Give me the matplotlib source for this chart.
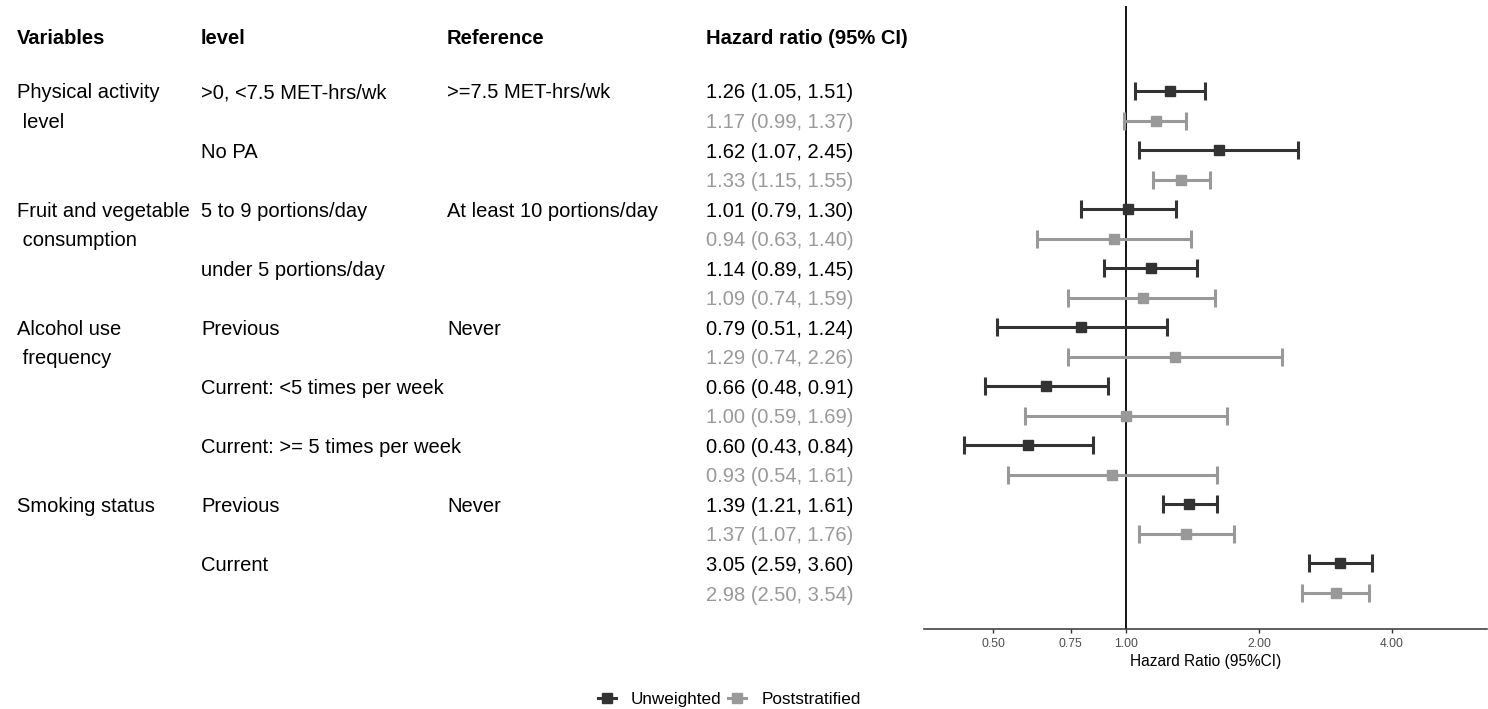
import matplotlib
matplotlib.use("Agg")
import matplotlib.pyplot as plt
from matplotlib.lines import Line2D
from matplotlib.transforms import blended_transform_factory
import numpy as np

plt.rcParams['font.family'] = ['Liberation Sans', 'DejaVu Sans']

variables = ["Physical activity", " level", "", "", "Fruit and vegetable", " consumption", "", "",
             "Alcohol use", " frequency", "", "", "", "", "Smoking status", "", "", ""]
levels = [">0, <7.5 MET-hrs/wk", "", "No PA", "", "5 to 9 portions/day", "", "under 5 portions/day", "",
          "Previous", "", "Current: <5 times per week", "", "Current: >= 5 times per week", "",
          "Previous", "", "Current", ""]
references = [">=7.5 MET-hrs/wk", "", "", "", "At least 10 portions/day", "", "", "",
              "Never", "", "", "", "", "", "Never", "", "", ""]
groups = ["Unweighted", "Poststratified"] * 9
hr = [1.26, 1.17, 1.62, 1.33, 1.01, 0.94, 1.14, 1.09, 0.79, 1.29, 0.66, 1.00, 0.60, 0.93, 1.39, 1.37, 3.05, 2.98]
lower = [1.05, 0.99, 1.07, 1.15, 0.79, 0.63, 0.89, 0.74, 0.51, 0.74, 0.48, 0.59, 0.43, 0.54, 1.21, 1.07, 2.59, 2.50]
upper = [1.51, 1.37, 2.45, 1.55, 1.30, 1.40, 1.45, 1.59, 1.24, 2.26, 0.91, 1.69, 0.84, 1.61, 1.61, 1.76, 3.60, 3.54]
xticks = [0.5, 0.75, 1.0, 2.0, 4.0]
xticklabels = ["0.50", "0.75", "1.00", "2.00", "4.00"]

colors = {"Unweighted": "#333333", "Poststratified": "#999999"}
textcolors = {"Unweighted": "#000000", "Poststratified": "#999999"}

W, H = 1488, 709
fig = plt.figure(figsize=(W / 100, H / 100), dpi=100)
left, right, top, bottom = 924, 1487, 6, 629
ax = fig.add_axes([left / W, 1 - bottom / H, (right - left) / W, (bottom - top) / H])

n = len(hr)
ys = np.arange(n)
row0, step = 91, 29.53
ax.set_ylim((bottom - row0) / step, (top - row0) / step)
ax.set_xscale('log', base=2)
ax.set_xlim(2 ** (-(1126 - left) / 133.0), 2 ** ((right - 1126) / 133.0))

ax.axvline(1.0, color="#000000", lw=1.3, zorder=1)
for i in range(n):
    c = colors[groups[i]]
    ax.errorbar([hr[i]], [ys[i]], xerr=[[hr[i] - lower[i]], [upper[i] - hr[i]]],
                fmt='s', color=c, ecolor=c, elinewidth=2.2, capsize=6.5, capthick=2.2,
                markersize=7.8, zorder=3)

for s in ['top', 'right', 'left']:
    ax.spines[s].set_visible(False)
ax.spines['bottom'].set_color('#333333')
ax.spines['bottom'].set_linewidth(1.1)
ax.set_yticks([])
ax.set_xticks(xticks)
ax.set_xticklabels(xticklabels)
ax.xaxis.set_minor_locator(matplotlib.ticker.NullLocator())
ax.tick_params(axis='x', colors='#333333', labelcolor='#4D4D4D', labelsize=8.7, length=3, width=1)
ax.set_xlabel("Hazard Ratio (95%CI)", fontsize=11.2, color='#000000', labelpad=3)

tr = blended_transform_factory(fig.transFigure, ax.transData)
fs = 14.5
va = 'center_baseline'
col_x = [17 / W, 201 / W, 447 / W, 706 / W]
hy = (36 - row0) / step
for x, t in zip(col_x, ["Variables", "level", "Reference", "Hazard ratio (95% CI)"]):
    ax.text(x, hy, t, transform=tr, fontsize=fs, fontweight='bold', va=va, ha='left', clip_on=False)

for i in range(n):
    tc = textcolors[groups[i]]
    if variables[i]:
        ax.text(col_x[0], ys[i], variables[i], transform=tr, fontsize=fs, va=va, ha='left', color='#000000', clip_on=False)
    if levels[i]:
        ax.text(col_x[1], ys[i], levels[i], transform=tr, fontsize=fs, va=va, ha='left', color='#000000', clip_on=False)
    if references[i]:
        ax.text(col_x[2], ys[i], references[i], transform=tr, fontsize=fs, va=va, ha='left', color='#000000', clip_on=False)
    ax.text(col_x[3], ys[i], f"{hr[i]:.2f} ({lower[i]:.2f}, {upper[i]:.2f})", transform=tr,
            fontsize=fs, va=va, ha='left', color=tc, clip_on=False)

# legend drawn manually for aligned baselines
ly = 1 - 698 / H
leg_items = [("Unweighted", 598, 631), ("Poststratified", 728, 762)]
for name, hx, tx in leg_items:
    c = colors[name]
    fig.add_artist(Line2D([hx / W, (hx + 18) / W], [ly, ly], color=c, lw=2.2, transform=fig.transFigure))
    fig.add_artist(Line2D([(hx + 9) / W], [ly], color=c, marker='s', markersize=7, lw=0, transform=fig.transFigure))
    fig.text(tx / W, ly, name, fontsize=12.3, va='center_baseline', ha='left', color='#000000')

fig.savefig("out.png", dpi=100)
